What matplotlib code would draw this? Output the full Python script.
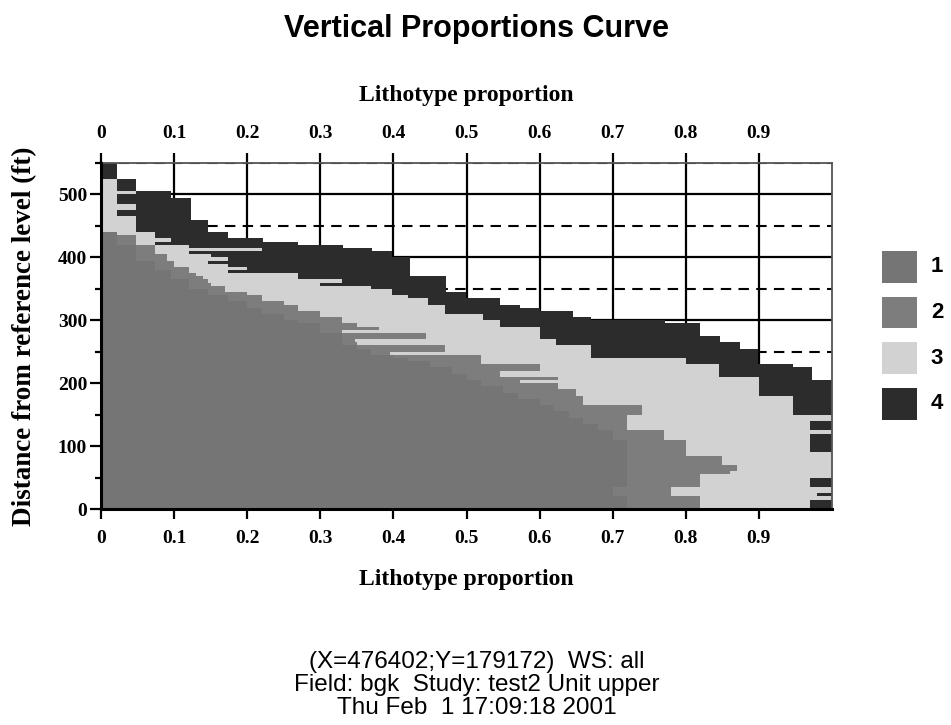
import numpy as np
import matplotlib
matplotlib.use("Agg")
import matplotlib.pyplot as plt
from matplotlib.patches import Rectangle
from matplotlib.ticker import MultipleLocator

# top of each 5 ft slice (ft above reference level), read from the top down
depth_top = list(range(550, 0, -5))

# cumulative proportion reached at the top of lithotype 1, 2, 3, 4 in each slice
cum1 = [0, 0, 0, 0, 0, 0, 0, 0, 0, 0,
        0, 0, 0, 0, 0, 0, 0, 0, 0, 0,
        0, 0, .022, .022, .022, .022, .048, .048, .048, .048,
        .048, .074, .074, .074, .096, .096, .096, .12, .12, .12,
        .147, .147, .174, .174, .2, .2, .22, .22, .25, .25,
        .27, .3, .3, .3, .33, .33, .33, .33, .35, .37,
        .37, .4, .42, .45, .45, .48, .48, .5, .5, .52,
        .52, .55, .55, .57, .57, .6, .6, .62, .62, .64,
        .64, .66, .66, .68, .68, .7, .7, .7, .72, .72,
        .72, .72, .72, .72, .72, .72, .72, .72, .72, .72,
        .72, .72, .72, .7, .7, .7, .72, .72, .72, .72]
cum2 = [0, 0, 0, 0, 0, 0, 0, 0, 0, 0,
        0, 0, 0, 0, 0, 0, 0, 0, 0, 0,
        0, 0, .022, .048, .048, .048, .074, .074, .074, .09,
        .09, .1, .1, .12, .12, .13, .14, .147, .15, .17,
        .17, .2, .22, .22, .25, .27, .27, .3, .3, .33,
        .33, .35, .38, .33, .445, .445, .348, .35, .47, .47,
        .395, .52, .52, .52, .6, .6, .546, .546, .625, .573,
        .625, .625, .65, .65, .66, .66, .66, .74, .74, .74,
        .72, .72, .72, .72, .72, .77, .77, .77, .8, .8,
        .8, .8, .8, .85, .85, .85, .87, .87, .86, .82,
        .82, .82, .82, .78, .78, .78, .82, .82, .82, .82]
cum3 = [0, 0, 0, 0, 0, .022, .022, .022, .022, .048,
        .022, .022, .022, .048, .048, .022, .022, .048, .048, .048,
        .048, .048, .074, .074, .096, .074, .12, .22, .12, .15,
        .174, .147, .174, .2, .174, .27, .27, .33, .3, .37,
        .398, .398, .42, .448, .448, .47, .47, .47, .523, .523,
        .546, .546, .6, .6, .6, .6, .623, .623, .67, .67,
        .67, .67, .8, .8, .846, .846, .846, .846, .9, .9,
        .9, .9, .9, .9, .947, .947, .947, .947, .947, .947,
        1, 1, .97, .97, .97, 1, .97, .97, .97, .97,
        .97, .97, 1, 1, 1, 1, 1, 1, 1, 1,
        .97, .97, .97, 1, 1, .98, 1, .97, .97, .97]
cum4 = [.022, .022, .022, .022, .022, .048, .048, .048, .048, .096,
        .096, .123, .123, .123, .123, .123, .123, .123, .147, .147,
        .147, .147, .174, .174, .222, .27, .331, .371, .398, .398,
        .423, .423, .423, .423, .423, .423, .472, .472, .472, .472,
        .472, .499, .499, .546, .546, .573, .6, .646, .646, .67,
        .772, .82, .82, .82, .82, .847, .847, .874, .874, .899,
        .899, .899, .899, .899, .947, .973, .973, .973, .973, 1,
        1, 1, 1, 1, 1, 1, 1, 1, 1, 1,
        1, 1, 1, 1, 1, 1, 1, 1, 1, 1,
        1, 1, 1, 1, 1, 1, 1, 1, 1, 1,
        1, 1, 1, 1, 1, 1, 1, 1, 1, 1]

litho_names = ["1", "2", "3", "4"]
litho_colors = ["#757575", "#7d7d7d", "#d2d2d2", "#2c2c2c"]

xticks = [0, 0.1, 0.2, 0.3, 0.4, 0.5, 0.6, 0.7, 0.8, 0.9]
xticklabels = ["0", "0.1", "0.2", "0.3", "0.4", "0.5", "0.6", "0.7", "0.8", "0.9"]
yticks = [0, 100, 200, 300, 400, 500]

serif = "Liberation Serif"
sans = "Liberation Sans"

W, H = 951, 725
fig = plt.figure(figsize=(W / 100, H / 100), dpi=100)
ax = fig.add_axes([101 / W, 1 - 509 / H, 731 / W, 346 / H])

bottoms = np.array(depth_top) - 5
cums = np.array([np.zeros(len(depth_top)), cum1, cum2, cum3, cum4])
for i in range(4):
    ax.barh(bottoms, cums[i + 1] - cums[i], height=5, left=cums[i],
            align="edge", color=litho_colors[i], linewidth=0, zorder=2)

ax.set_xlim(0, 1)
ax.set_ylim(0, 550)
ax.set_xticks(xticks)
ax.set_xticklabels(xticklabels)
ax.set_yticks(yticks)
ax.yaxis.set_minor_locator(MultipleLocator(50))

ax.set_axisbelow(True)
ax.grid(which="major", color="black", linewidth=1.6)
ax.grid(which="minor", axis="y", color="black", linewidth=1.5,
        linestyle=(0, (5, 3.5)))

for s in ["left", "bottom"]:
    ax.spines[s].set_linewidth(2.2)
    ax.spines[s].set_zorder(5)
for s in ["top", "right"]:
    ax.spines[s].set_linewidth(1.3)
    ax.spines[s].set_color("#555555")

ax.tick_params(axis="x", which="both", top=True, labeltop=True, direction="out",
               length=7, width=1.6, pad=8)
ax.tick_params(axis="y", which="major", direction="out", length=8, width=1.6, pad=2)
ax.tick_params(axis="y", which="minor", direction="out", length=4, width=1.6)
for lab in ax.get_xticklabels() + ax.get_yticklabels():
    lab.set_fontfamily(serif)
    lab.set_fontweight("bold")
    lab.set_fontsize(14)

ax.set_xlabel("Lithotype proportion", fontfamily=serif, fontweight="bold",
              fontsize=17, labelpad=16)
ax.set_ylabel("Distance from reference level (ft)", fontfamily=serif,
              fontweight="bold", fontsize=19.5, labelpad=15)
fig.text(466 / W, 1 - 95 / H, "Lithotype proportion", ha="center", va="center",
         fontfamily=serif, fontweight="bold", fontsize=17)

fig.text(476 / W, 1 - 29 / H, "Vertical Proportions Curve", ha="center",
         va="center", fontfamily=sans, fontweight="bold", fontsize=22)

# legend
for i, name in enumerate(litho_names):
    yc = 267 + 45.5 * i
    fig.add_artist(Rectangle((882 / W, 1 - (yc + 16) / H), 35 / W, 32 / H,
                             transform=fig.transFigure, facecolor=litho_colors[i],
                             edgecolor="none"))
    fig.text(937 / W, 1 - yc / H, name, ha="center", va="center",
             fontfamily=sans, fontweight="bold", fontsize=16)

info = ["(X=476402;Y=179172)  WS: all",
        "Field: bgk  Study: test2 Unit upper",
        "Thu Feb  1 17:09:18 2001"]
for k, line in enumerate(info):
    fig.text(477 / W, 1 - (662 + 23 * k) / H, line, ha="center", va="center",
             fontfamily=sans, fontsize=17.5)

fig.savefig("out.png", dpi=100)
